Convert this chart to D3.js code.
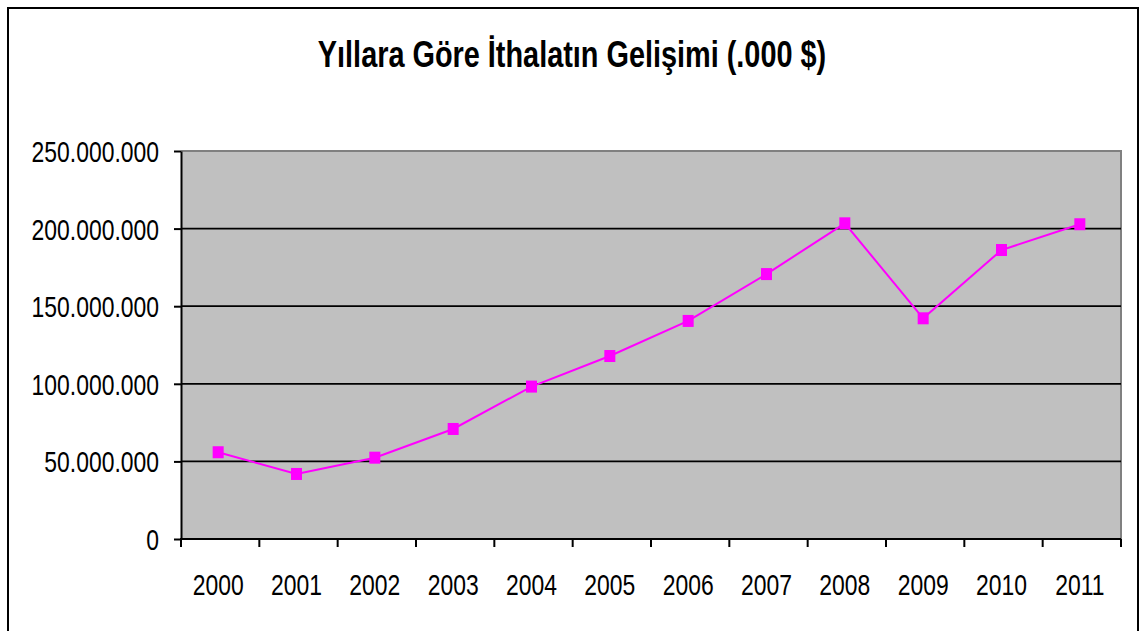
<!DOCTYPE html>
<html>
<head>
<meta charset="utf-8">
<script src="https://cdn.jsdelivr.net/npm/d3@7"></script>
<style>
  html, body { margin: 0; padding: 0; background: #fff; }
  svg { display: block; }
  .narrow { font-family: "Liberation Sans Narrow", "Arial Narrow", "Liberation Sans", Arial, sans-serif; }
</style>
</head>
<body>
<div id="chart"></div>
<script>
// data (values in thousand $)
var years = ['2000', '2001', '2002', '2003', '2004', '2005', '2006', '2007', '2008', '2009', '2010', '2011'],
    imports = [55900000, 41900000, 52400000, 70900000, 98200000, 117900000,
               140500000, 170700000, 203400000, 142200000, 186200000, 202800000],
    yTicks = [0, 50000000, 100000000, 150000000, 200000000, 250000000],
    title = 'Yıllara Göre İthalatın Gelişimi (.000 $)';

var W = 1144, H = 631,
    plot = { left: 181, right: 1121, top: 151, bottom: 539 },
    squeeze = 0.79; // no narrow face installed, so squeeze the regular one

var trFormat = d3.formatLocale({ decimal: ',', thousands: '.', grouping: [3], currency: ['', ' $'] }).format(',d');

var svg = d3.select('#chart').append('svg')
  .attr('width', W)
  .attr('height', H);

// outer chart border (bottom edge runs off the picture)
svg.append('rect')
  .attr('x', 8).attr('y', 8)
  .attr('width', 1130).attr('height', 640)
  .attr('fill', '#fff')
  .attr('stroke', '#000')
  .attr('stroke-width', 2);

// title
svg.append('text')
  .attr('class', 'narrow')
  .attr('transform', 'translate(572,67) scale(0.78,1)')
  .attr('text-anchor', 'middle')
  .attr('font-size', 37)
  .attr('font-weight', 'bold')
  .attr('fill', '#000')
  .text(title);

var x = d3.scaleBand()
  .domain(years)
  .range([plot.left, plot.right]);

var y = d3.scaleLinear()
  .domain([0, 250000000])
  .range([plot.bottom, plot.top]);

// plot area
svg.append('rect')
  .attr('x', plot.left).attr('y', plot.top)
  .attr('width', plot.right - plot.left)
  .attr('height', plot.bottom - plot.top)
  .attr('fill', '#c0c0c0');

// top / right edges are grey
svg.append('path')
  .attr('d', 'M' + plot.left + ',' + plot.top + 'H' + plot.right + 'V' + plot.bottom)
  .attr('fill', 'none')
  .attr('stroke', '#808080')
  .attr('stroke-width', 2);

// gridlines
svg.append('g')
  .selectAll('line')
  .data(yTicks.filter(function(d) { return d > 0 && d < 250000000; }))
  .enter().append('line')
  .attr('x1', plot.left).attr('x2', plot.right)
  .attr('y1', function(d) { return y(d); })
  .attr('y2', function(d) { return y(d); })
  .attr('stroke', '#000')
  .attr('stroke-width', 1.8);

// y axis
var yAxis = svg.append('g')
  .attr('transform', 'translate(' + plot.left + ',0)')
  .call(d3.axisLeft(y).tickValues(yTicks).tickFormat(trFormat).tickSizeInner(7).tickSizeOuter(0).tickPadding(15));
yAxis.select('.domain').attr('stroke', '#000').attr('stroke-width', 2);
yAxis.selectAll('.tick line').attr('stroke', '#000').attr('stroke-width', 2);
yAxis.selectAll('.tick text')
  .attr('class', 'narrow')
  .attr('font-size', 29)
  .attr('fill', '#000')
  .attr('x', -22 / squeeze)
  .attr('dy', '0.36em')
  .attr('transform', 'scale(' + squeeze + ',1)');

// x axis, ticks sit between the categories
var xAxis = svg.append('g')
  .attr('transform', 'translate(0,' + plot.bottom + ')')
  .call(d3.axisBottom(x).tickSize(0).tickPadding(56));
xAxis.select('.domain').remove();
xAxis.selectAll('.tick text')
  .attr('class', 'narrow')
  .attr('font-size', 29)
  .attr('fill', '#000')
  .attr('x', -2 / squeeze)
  .attr('dy', '0')
  .attr('transform', 'scale(' + squeeze + ',1)');

xAxis.selectAll('line.sep')
  .data(years.concat(['end']))
  .enter().append('line')
  .attr('class', 'sep')
  .attr('x1', function(d, i) { return i < years.length ? x(d) : plot.right; })
  .attr('x2', function(d, i) { return i < years.length ? x(d) : plot.right; })
  .attr('y1', 0).attr('y2', 8)
  .attr('stroke', '#000')
  .attr('stroke-width', 2);

xAxis.append('line')
  .attr('x1', plot.left - 1).attr('x2', plot.right)
  .attr('y1', 0).attr('y2', 0)
  .attr('stroke', '#000')
  .attr('stroke-width', 2);

// series
var cx = function(d, i) { return x(years[i]) + x.bandwidth() / 2 - 2; };

svg.append('path')
  .datum(imports)
  .attr('d', d3.line().x(cx).y(function(d) { return y(d); }))
  .attr('fill', 'none')
  .attr('stroke', '#ff00ff')
  .attr('stroke-width', 2);

svg.append('g')
  .selectAll('rect')
  .data(imports)
  .enter().append('rect')
  .attr('x', function(d, i) { return cx(d, i) - 5.5; })
  .attr('y', function(d) { return y(d) - 6; })
  .attr('width', 11)
  .attr('height', 12)
  .attr('fill', '#ff00ff');
// end of series
</script>
</body>
</html>
